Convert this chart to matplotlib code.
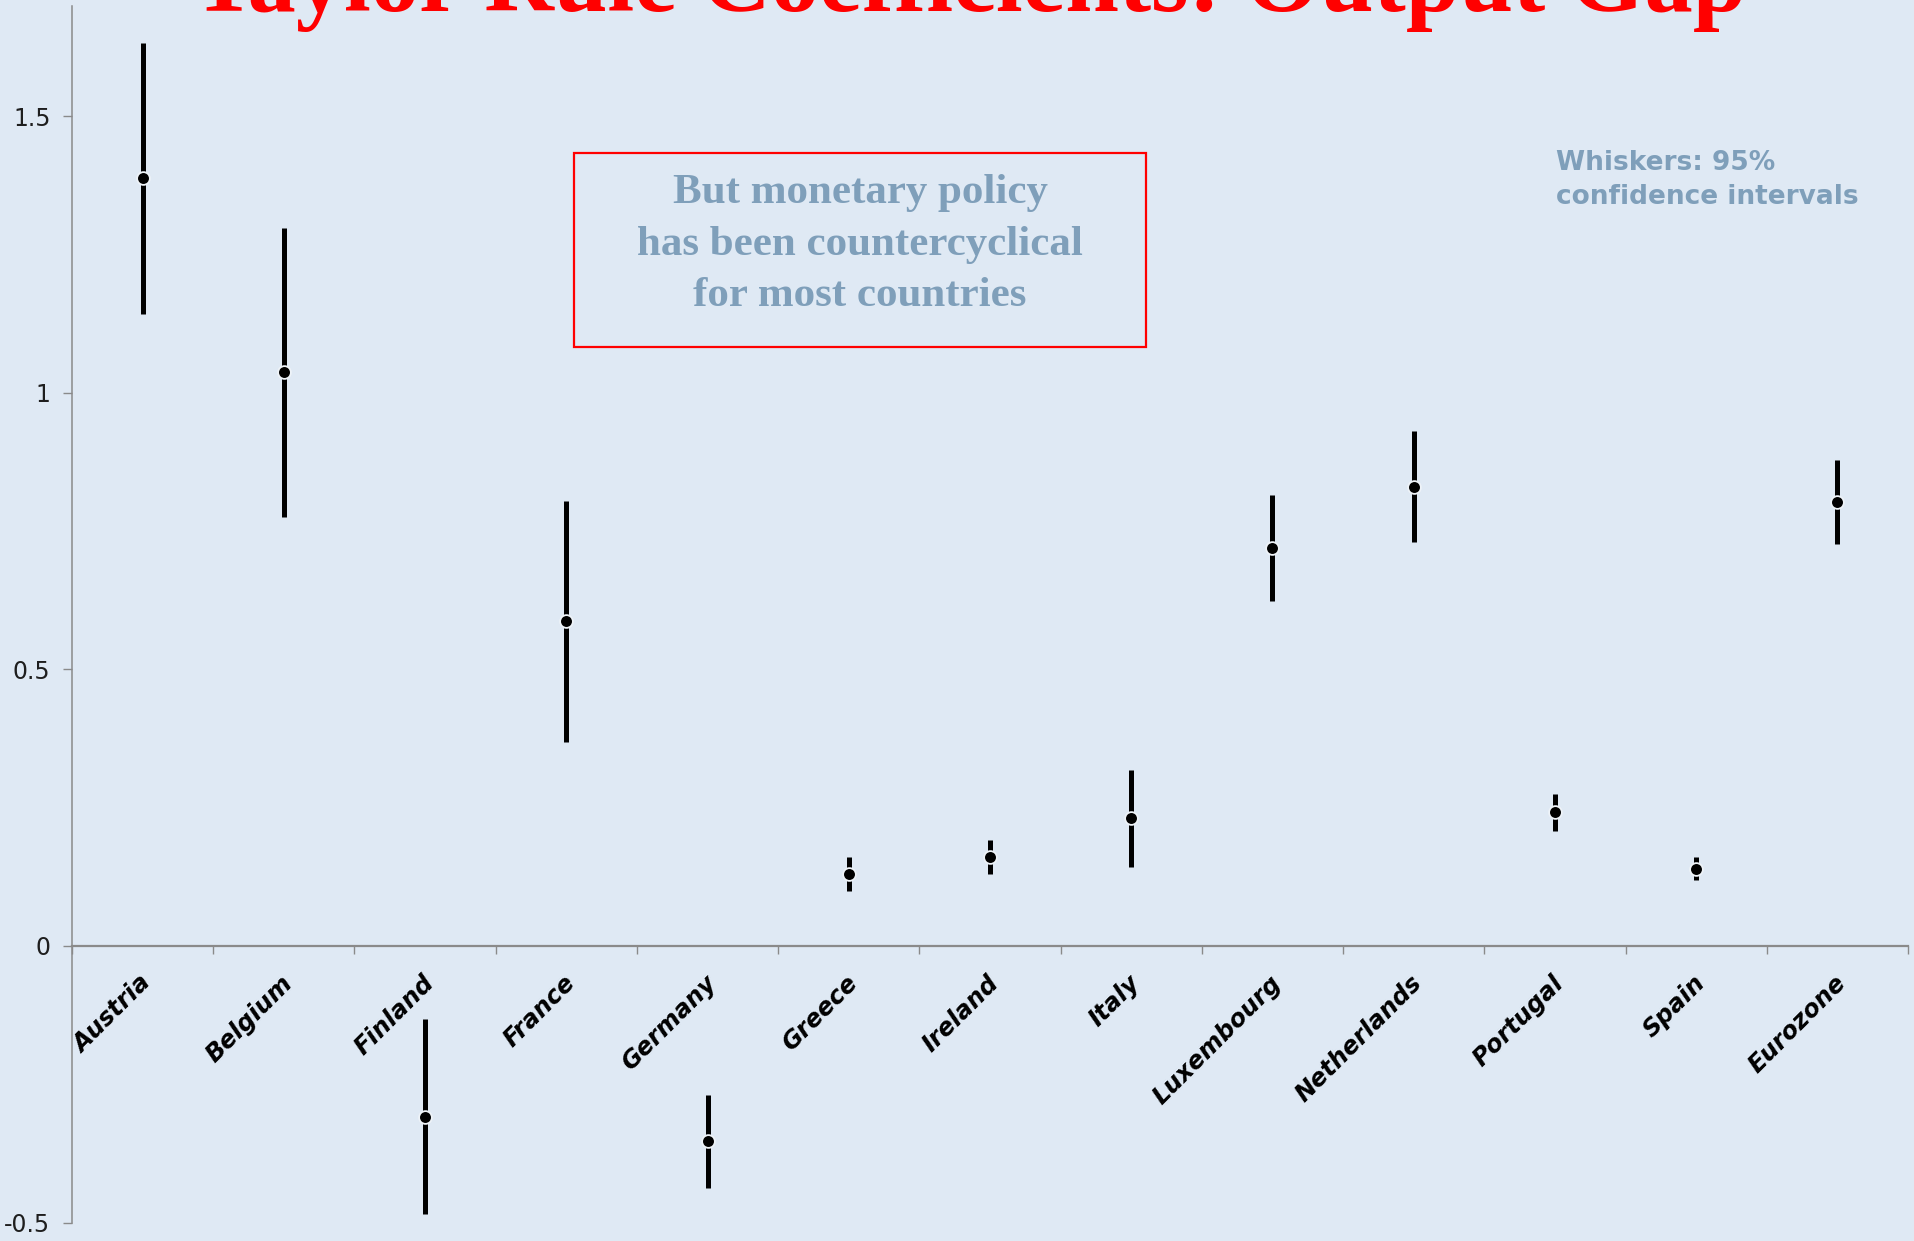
import matplotlib
matplotlib.use("Agg")
import matplotlib.pyplot as plt
from matplotlib.patches import Rectangle
from matplotlib.transforms import ScaledTranslation

# Output-gap coefficients of estimated Taylor rules, with 95% confidence intervals
countries = ["Austria", "Belgium", "Finland", "France", "Germany", "Greece",
             "Ireland", "Italy", "Luxembourg", "Netherlands", "Portugal",
             "Spain", "Eurozone"]
coef = [1.388, 1.037, -0.309, 0.587, -0.353, 0.131, 0.161, 0.231,
        0.720, 0.830, 0.242, 0.140, 0.802]
ci_low = [1.143, 0.776, -0.485, 0.368, -0.437, 0.100, 0.131, 0.143,
          0.623, 0.731, 0.208, 0.119, 0.726]
ci_high = [1.633, 1.297, -0.132, 0.805, -0.269, 0.161, 0.192, 0.318,
           0.815, 0.931, 0.274, 0.161, 0.878]
yticks = [-0.5, 0, 0.5, 1, 1.5]
ytick_labels = ["-0.5", "0", "0.5", "1", "1.5"]

title = "Taylor Rule Coefficients: Output Gap"
note_lines = ["But monetary policy", "has been countercyclical", "for most countries"]
legend_lines = ["Whiskers: 95%", "confidence intervals"]

BG = "#DFE9F4"
AXIS = "#8A8A8A"
NOTE = "#7F9FBA"

W, H = 1914, 1241
fig = plt.figure(figsize=(W / 100, H / 100), dpi=100, facecolor=BG)
ax = fig.add_axes([72 / W, 1 - 1222.6 / H, (1908 - 72) / W, (1222.6 - 5.5) / H])
ax.set_facecolor(BG)

x = list(range(len(countries)))
ax.vlines(x, ci_low, ci_high, color="black", lw=3.6, capstyle="butt", zorder=3)
ax.plot(x, coef, "o", ms=9.2, mfc="black", mec="#EEF3F8", mew=1.3, zorder=4)

ax.set_xlim(-0.5, len(countries) - 0.5)
ax.set_ylim(-0.5, 1.70)

# axes: y axis on the left, x axis through zero
for side in ("top", "right"):
    ax.spines[side].set_visible(False)
ax.spines["left"].set_color(AXIS)
ax.spines["left"].set_linewidth(1.1)
ax.spines["bottom"].set_position(("data", 0))
ax.spines["bottom"].set_color(AXIS)
ax.spines["bottom"].set_linewidth(1.6)

ax.set_yticks(yticks)
ax.set_yticklabels(ytick_labels, fontsize=17, color="#1E1E1E", family="DejaVu Sans")
ax.tick_params(axis="y", direction="out", length=6.5, width=1.0, color=AXIS, pad=9)

# x ticks mark the boundaries between countries
ax.set_xticks([i - 0.5 for i in range(len(countries) + 1)])
ax.set_xticklabels([])
ax.tick_params(axis="x", direction="out", length=6, width=1.0, color=AXIS)

label_shift = ScaledTranslation(3.5 / 72, -24 / 72, fig.dpi_scale_trans)
for i, name in enumerate(countries):
    ax.text(i, 0, name, rotation=45, rotation_mode="anchor", ha="right", va="center",
            fontsize=17.5, fontweight="bold", fontstyle="oblique",
            family="DejaVu Sans", color="black",
            transform=ax.transData + label_shift, clip_on=False)

# title, partly running off the top edge
fig.text(969.5 / W, 1 - 11 / H, title, ha="center", va="baseline", fontsize=69.5,
         fontweight="bold", family="Liberation Serif", color="#FF0000")

# framed note
fig.patches.append(Rectangle((574 / W, 1 - 347 / H), (1146 - 574) / W, (347 - 153) / H,
                             transform=fig.transFigure, fill=False, ec="#FF0000", lw=1.6))
for line, base in zip(note_lines, [203, 255, 306]):
    fig.text(860 / W, 1 - base / H, line, ha="center", va="baseline", fontsize=31,
             fontweight="bold", family="Liberation Serif", color=NOTE)

for line, base in zip(legend_lines, [170, 204]):
    fig.text(1556 / W, 1 - base / H, line, ha="left", va="baseline", fontsize=19,
             fontweight="bold", family="DejaVu Sans", color=NOTE)

fig.savefig("out.png", dpi=100, facecolor=BG)
